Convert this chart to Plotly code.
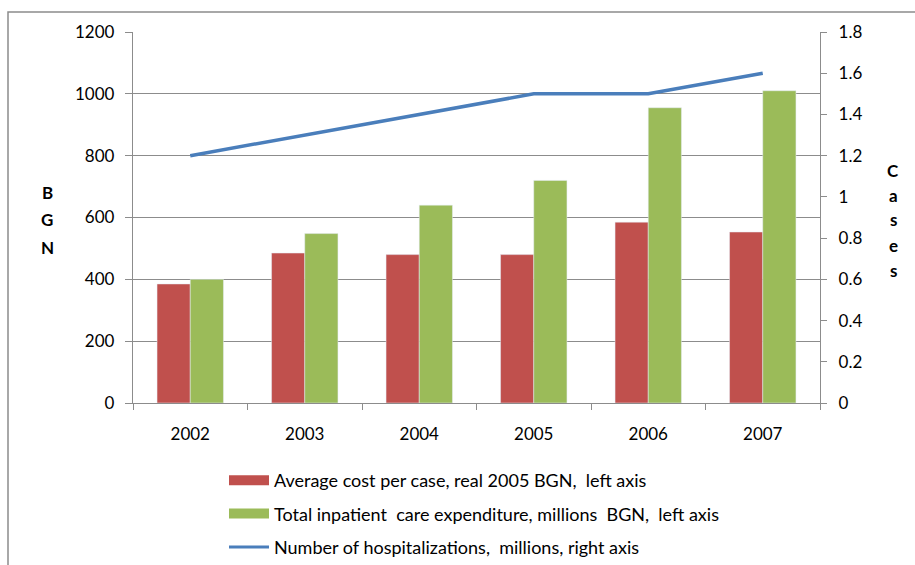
import plotly.graph_objects as go

years = ["2002", "2003", "2004", "2005", "2006", "2007"]
avg_cost = [385, 485, 480, 480, 585, 553]
total_exp = [400, 548, 640, 720, 955, 1010]
hospitalizations = [1.2, 1.3, 1.4, 1.5, 1.5, 1.6]

left_ticks = [0, 200, 400, 600, 800, 1000, 1200]
right_ticks = [0, 0.2, 0.4, 0.6, 0.8, 1, 1.2, 1.4, 1.6, 1.8]

names = [
    "Average cost per case, real 2005 BGN,  left axis",
    "Total inpatient  care expenditure, millions  BGN,  left axis",
    "Number of hospitalizations,  millions, right axis",
]
colors = ["#c0504d", "#9bbb59", "#4a7ebb"]

FONT = "Lato, Carlito, 'Liberation Sans', sans-serif"
GRID = "#8c8c8c"
FS = 17

fig = go.Figure()
fig.add_trace(go.Bar(x=years, y=avg_cost, name=names[0], marker_color=colors[0],
                     showlegend=False, yaxis="y"))
fig.add_trace(go.Bar(x=years, y=total_exp, name=names[1], marker_color=colors[1],
                     showlegend=False, yaxis="y"))
fig.add_trace(go.Scatter(x=years, y=hospitalizations, name=names[2], mode="lines",
                         line=dict(color=colors[2], width=3.5), showlegend=False,
                         yaxis="y2"))

# legend keys: wide flat swatches for the bar series, a thin line for the line series
for i, (nm, col) in enumerate(zip(names, colors)):
    fig.add_trace(go.Scatter(x=[None], y=[None], name=nm, mode="lines",
                             line=dict(color=col, width=3 if i == 2 else 10),
                             legendgroup=str(i), showlegend=True, hoverinfo="skip"))

W, H = 915, 565
ml, mr, mt, mb = 133, 95, 32, 162
pw, ph = W - ml - mr, H - mt - mb


def px_x(x):
    return (x - ml) / pw


def px_y(y):
    return (H - mb - y) / ph


annotations = []
for i, ch in enumerate("BGN"):
    annotations.append(dict(text="<b>" + ch + "</b>", x=px_x(47), y=px_y(192 + 27.5 * i),
                            xref="paper", yref="paper", showarrow=False,
                            font=dict(family=FONT, size=FS, color="#000"),
                            xanchor="center", yanchor="middle"))
for i, ch in enumerate("Cases"):
    annotations.append(dict(text="<b>" + ch + "</b>", x=px_x(893), y=px_y(170 + 25 * i),
                            xref="paper", yref="paper", showarrow=False,
                            font=dict(family=FONT, size=FS, color="#000"),
                            xanchor="center", yanchor="middle"))

fig.update_layout(
    width=W, height=H,
    margin=dict(l=ml, r=mr, t=mt, b=mb, autoexpand=False),
    paper_bgcolor="white", plot_bgcolor="white",
    font=dict(family=FONT, size=FS, color="#000"),
    barmode="group", bargap=0.42, bargroupgap=0,
    showlegend=True,
    legend=dict(x=px_x(224), y=px_y(462), xanchor="left", yanchor="top",
                orientation="v", tracegroupgap=7, itemwidth=40,
                font=dict(family=FONT, size=18, color="#000"),
                bgcolor="rgba(0,0,0,0)"),
    xaxis=dict(type="category", showline=True, linecolor=GRID, linewidth=1.3,
               ticks="outside", tickson="boundaries", ticklen=6, tickcolor=GRID,
               ticklabelstandoff=15, showgrid=False, tickfont=dict(size=FS)),
    yaxis=dict(range=[0, 1200], tickvals=left_ticks, showline=True, linecolor=GRID,
               linewidth=1.3, ticks="outside", ticklen=7, tickcolor=GRID,
               ticklabelstandoff=7,
               gridcolor=GRID, gridwidth=1.3, zeroline=False, tickfont=dict(size=FS)),
    yaxis2=dict(range=[0, 1.8], tickvals=right_ticks, overlaying="y", side="right",
                showline=True, linecolor=GRID, linewidth=1.3, ticks="outside", ticklen=6,
                ticklabelstandoff=8,
                tickcolor=GRID, showgrid=False, zeroline=False, tickfont=dict(size=FS)),
    annotations=annotations,
    shapes=[dict(type="rect", xref="paper", yref="paper",
                 x0=px_x(8), y0=px_y(600), x1=px_x(960), y1=px_y(12),
                 line=dict(color="#8c8c8c", width=1.5), fillcolor="rgba(0,0,0,0)",
                 layer="below")],
)

fig.write_html("out.html")
